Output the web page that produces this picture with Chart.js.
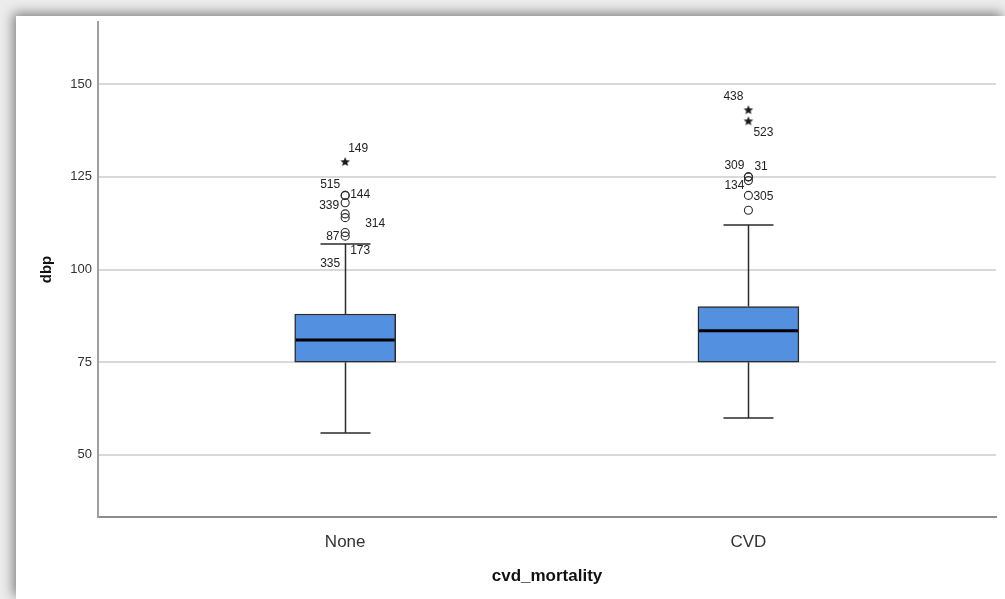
<!DOCTYPE html>
<html>
<head>
<meta charset="utf-8">
<script src="https://cdn.jsdelivr.net/npm/chart.js@4/dist/chart.umd.min.js"></script>
<style>
  html, body { margin: 0; padding: 0; background: #ececec; overflow: hidden; }
  #panel {
    position: absolute; left: 16px; top: 16px; width: 989px; height: 583px;
    background: #fff; box-shadow: -3px -3px 11px rgba(0,0,0,0.45);
  }
  canvas { display: block; }
</style>
</head>
<body>
<div id="panel"><canvas id="myChart" width="989" height="583"></canvas></div>
<script>
// categories and box statistics (dbp by cvd_mortality)
const categories = ['None', 'CVD'];
const q1 = [75, 75];
const median = [81, 83.5];
const q3 = [88, 90];
const whiskerLow = [56, 60];
const whiskerHigh = [107, 112];

// outliers: circles (mild) and stars (extreme), with case ids
const circleGroup = [0, 0, 0, 0, 0, 0, 0, 1, 1, 1, 1, 1];
const circleValues = [120, 120, 118, 115, 114, 110, 109, 125, 125, 124, 120, 116];
const circleIds = ['515', '144', '339', '314', '335', '87', '173', '309', '31', '134', '305', ''];
const starGroup = [0, 1, 1];
const starValues = [129, 143, 140];
const starIds = ['149', '438', '523'];

const yTicks = [50, 75, 100, 125, 150];

// where each case label sits relative to its marker (px)
const circleLabelOffsets = [[-25, -11], [5, -1], [-26, 3], [20, 10], [-25, 46], [-19, 4], [5, 15],
                            [-24, -11], [6, -10], [-24, 5], [5, 1], [0, 0]];
const starLabelOffsets = [[3, -13], [-25, -13], [5, 11]];

const FONT = "'Liberation Sans', Arial, sans-serif";
const boxColor = '#5391e0';
const lineColor = '#2b2b2b';

function makeStar(r) {
  var c = document.createElement('canvas');
  c.width = c.height = 2 * r + 2;
  var g = c.getContext('2d');
  g.fillStyle = '#1a1a1a';
  g.beginPath();
  for (var i = 0; i < 10; i++) {
    var a = -Math.PI / 2 + i * Math.PI / 5;
    var rr = i % 2 ? r * 0.45 : r;
    g.lineTo(r + 1 + rr * Math.cos(a), r + 1 + rr * Math.sin(a));
  }
  g.closePath();
  g.fill();
  return c;
}

const boxParts = {
  id: 'boxParts',
  beforeDatasetsDraw(chart) {
    var ctx = chart.ctx, xs = chart.scales.x, ys = chart.scales.y;
    ctx.save();
    ctx.strokeStyle = lineColor;
    ctx.lineWidth = 1.5;
    for (var i = 0; i < categories.length; i++) {
      var cx = Math.round(xs.getPixelForValue(i)) + 0.5;
      var yHi = Math.round(ys.getPixelForValue(whiskerHigh[i]));
      var yLo = Math.round(ys.getPixelForValue(whiskerLow[i]));
      ctx.beginPath();
      ctx.moveTo(cx, yHi); ctx.lineTo(cx, ys.getPixelForValue(q3[i]));
      ctx.moveTo(cx, yLo); ctx.lineTo(cx, ys.getPixelForValue(q1[i]));
      ctx.moveTo(cx - 25, yHi); ctx.lineTo(cx + 25, yHi);
      ctx.moveTo(cx - 25, yLo); ctx.lineTo(cx + 25, yLo);
      ctx.stroke();
    }
    ctx.restore();
  },
  afterDatasetsDraw(chart) {
    var ctx = chart.ctx, ys = chart.scales.y;
    var bars = chart.getDatasetMeta(0).data;
    ctx.save();
    ctx.strokeStyle = '#000';
    ctx.lineWidth = 3;
    for (var i = 0; i < categories.length; i++) {
      var b = bars[i];
      var ym = ys.getPixelForValue(median[i]);
      ctx.beginPath();
      ctx.moveTo(b.x - b.width / 2 + 1, ym);
      ctx.lineTo(b.x + b.width / 2 - 1, ym);
      ctx.stroke();
    }
    // case labels
    ctx.fillStyle = '#222';
    ctx.font = '12px ' + FONT;
    ctx.textAlign = 'left';
    ctx.textBaseline = 'middle';
    chart.getDatasetMeta(1).data.forEach(function (p, k) {
      if (!circleIds[k]) return;
      ctx.fillText(circleIds[k], p.x + circleLabelOffsets[k][0], p.y + circleLabelOffsets[k][1]);
    });
    chart.getDatasetMeta(2).data.forEach(function (p, k) {
      if (!starIds[k]) return;
      ctx.fillText(starIds[k], p.x + starLabelOffsets[k][0], p.y + starLabelOffsets[k][1]);
    });
    ctx.restore();
  }
};

function noEdgePadding(s) {
  s.paddingTop = 0; s.paddingBottom = 0; s.paddingLeft = 0; s.paddingRight = 0;
}

var grapharea = document.getElementById('myChart').getContext('2d');
var mychart = new Chart(grapharea, {
  type: 'bar',
  data: {
    datasets: [{
      data: categories.map(function (c, i) { return { x: i, y: [q1[i], q3[i]] }; }),
      backgroundColor: boxColor,
      borderColor: lineColor,
      borderWidth: 1.5,
      borderSkipped: false,
      barThickness: 101,
      order: 2
    }, {
      type: 'scatter',
      data: circleValues.map(function (v, k) { return { x: circleGroup[k], y: v }; }),
      pointStyle: 'circle',
      pointRadius: 4,
      pointBackgroundColor: 'rgba(255,255,255,0)',
      pointBorderColor: lineColor,
      pointBorderWidth: 1.1,
      order: 1
    }, {
      type: 'scatter',
      data: starValues.map(function (v, k) { return { x: starGroup[k], y: v }; }),
      pointStyle: makeStar(5),
      pointRadius: 5,
      order: 1
    }]
  },
  options: {
    responsive: false,
    devicePixelRatio: 1,
    animation: false,
    layout: { padding: { left: 0, right: 9, top: 6, bottom: 0 } },
    plugins: { legend: { display: false }, tooltip: { enabled: false } },
    scales: {
      x: {
        type: 'linear',
        offset: false,
        min: -0.613,
        max: 1.614,
        afterBuildTicks: function (s) { s.ticks = categories.map(function (c, i) { return { value: i }; }); },
        afterFit: function (s) { s.height = 82; noEdgePadding(s); },
        grid: { display: false },
        border: { color: '#8c8c8c', width: 2 },
        ticks: {
          callback: function (v) { return categories[v]; },
          font: { family: FONT, size: 17 },
          color: '#333',
          padding: 7,
          maxRotation: 0,
          autoSkip: false
        },
        title: {
          display: true,
          text: 'cvd_mortality',
          font: { family: FONT, size: 17, weight: 'bold' },
          color: '#111',
          padding: { top: 0, bottom: 12 }
        }
      },
      y: {
        min: 33.2,
        max: 166.8,
        afterBuildTicks: function (s) { s.ticks = yTicks.map(function (v) { return { value: v }; }); },
        afterFit: function (s) { s.width = 82; noEdgePadding(s); },
        grid: { color: '#d9d9d9', lineWidth: 2, drawTicks: false },
        border: { color: '#a0a0a0', width: 2 },
        ticks: {
          font: { family: FONT, size: 13 },
          color: '#333',
          padding: 6
        },
        title: {
          display: true,
          text: 'dbp',
          font: { family: FONT, size: 15, weight: 'bold' },
          color: '#111',
          padding: { top: 22, bottom: 0 }
        }
      }
    }
  },
  plugins: [boxParts]
});
</script>
</body>
</html>
